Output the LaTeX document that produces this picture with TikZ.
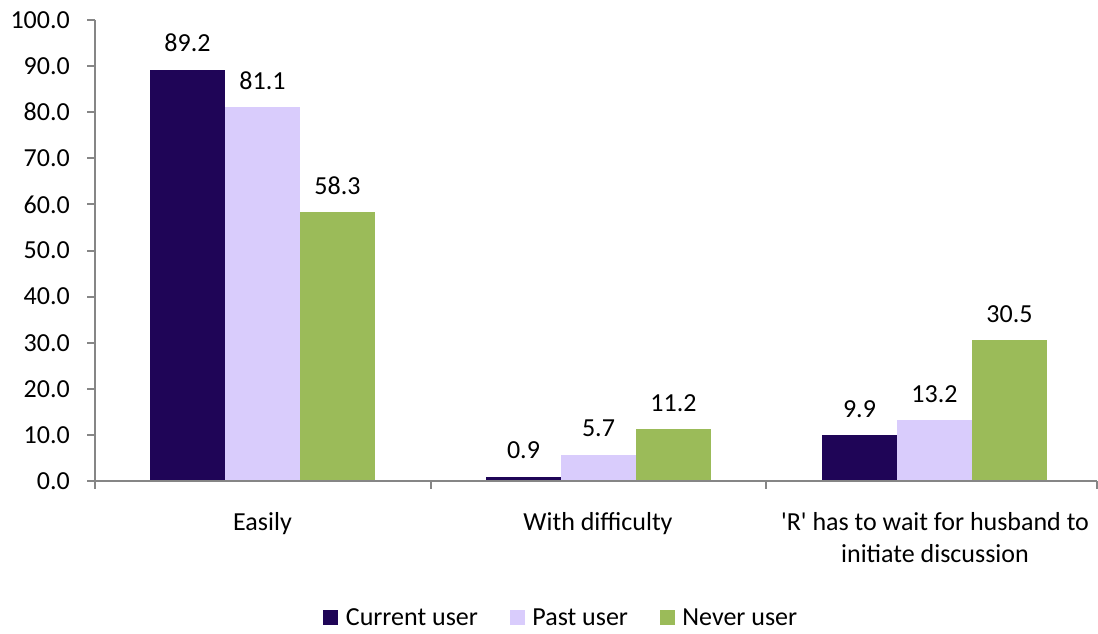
\documentclass[tikz,border=0pt]{standalone}
\usepackage{fontspec}
\setmainfont{Carlito}
\usetikzlibrary{positioning}
\definecolor{currentuser}{RGB}{31,5,87}
\definecolor{pastuser}{RGB}{217,204,252}
\definecolor{neveruser}{RGB}{155,187,89}
\definecolor{axisgray}{RGB}{134,134,134}

\begin{document}
\begin{tikzpicture}[x=1pt,y=-1pt]
        \tikzset{axis/.style = {draw=axisgray, line width=2pt}}
        \tikzset{txt/.style = {font=\fontsize{26}{32}\selectfont, inner sep=0pt}}
        \tikzset{legkey/.style = {minimum size=15pt, inner sep=0pt}}
        \useasboundingbox (0,0) rectangle (1098,634);
        % bars
        \foreach \cx/\a/\b/\c in {150/89.2/81.1/58.3, 486/0.9/5.7/11.2, 822/9.9/13.2/30.5} {
          \foreach \i/\v/\col in {0/\a/currentuser, 1/\b/pastuser, 2/\c/neveruser} {
            \pgfmathsetmacro{\x}{\cx+75*\i}
            \pgfmathsetmacro{\top}{481-4.61*\v}
            \fill[\col] (\x,481) rectangle (\x+75,\top);
            \node[txt, anchor=base] at (\x+37.5,\top-18) {\v};
          }
        }
        % axes
        \draw[axis] (95,20) -- (95,489);
        \draw[axis] (95,481) -- (1097,481);
        \foreach \tx in {430.5,766,1097} \draw[axis] (\tx,481) -- (\tx,489);
        \foreach \v in {0,10,...,100} {
          \pgfmathsetmacro{\py}{481-4.61*\v}
          \draw[axis] (87,\py) -- (95,\py);
          \node[txt, anchor=east] (ytick\v) at (70,\py) {\v.0};
        }
        % categories
        \node[txt, anchor=base] (easily) at (262.5,530) {Easily};
        \node[txt, anchor=base] (difficulty) at (598,530) {With difficulty};
        \node[txt, anchor=base, align=center] (wait) at (935,562)
          {\textquotesingle R\textquotesingle{} has to wait for husband to\\initiate discussion};
        % legend
        \node[legkey, fill=currentuser] (kcurrent) at (330,617.5) {};
        \node[txt, right=8pt of kcurrent] (lcurrent) {Current user};
        \node[legkey, fill=pastuser] (kpast) at (517.5,617.5) {};
        \node[txt, right=7pt of kpast] (lpast) {Past user};
        \node[legkey, fill=neveruser] (knever) at (667.5,617.5) {};
        \node[txt, right=7pt of knever] (lnever) {Never user};
\end{tikzpicture}
\end{document}
